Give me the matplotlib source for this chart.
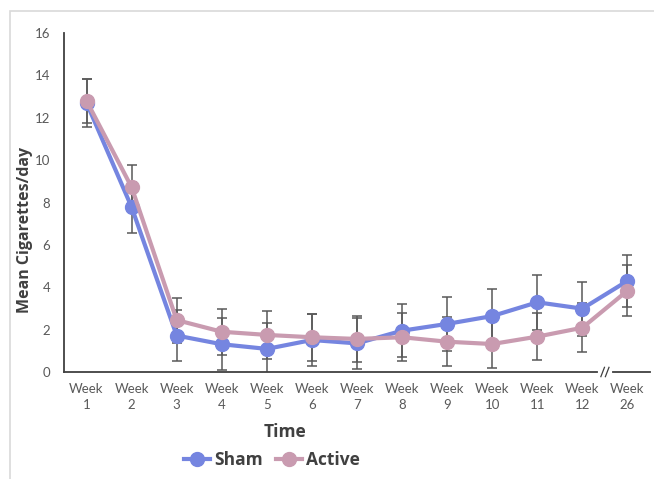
import matplotlib
matplotlib.use('Agg')
import numpy as np
import matplotlib.pyplot as plt
from matplotlib.patches import Rectangle
from matplotlib.lines import Line2D

plt.rcParams['font.family'] = ['Lato', 'DejaVu Sans']

weeks = ['Week\n1', 'Week\n2', 'Week\n3', 'Week\n4', 'Week\n5', 'Week\n6', 'Week\n7',
         'Week\n8', 'Week\n9', 'Week\n10', 'Week\n11', 'Week\n12', 'Week\n26']
sham = [12.7, 7.78, 1.72, 1.31, 1.09, 1.51, 1.35, 1.95, 2.27, 2.64, 3.29, 2.99, 4.30]
sham_err = [1.12, 1.2, 1.2, 1.22, 1.24, 1.22, 1.2, 1.24, 1.26, 1.26, 1.29, 1.27, 1.22]
active = [12.8, 8.72, 2.45, 1.90, 1.75, 1.64, 1.56, 1.64, 1.43, 1.32, 1.67, 2.09, 3.84]
active_err = [1.05, 1.05, 1.06, 1.08, 1.13, 1.1, 1.1, 1.13, 1.15, 1.12, 1.1, 1.16, 1.2]

sham_col = '#7585E0'
active_col = '#C99BB0'
txt_col = '#595959'
bold_font = ['Open Sans', 'DejaVu Sans']

fig = plt.figure(figsize=(6.54, 4.79), dpi=100)
# light outer frame of the chart area
fig.add_artist(Rectangle((10 / 654, -0.1), 1.2, (479 - 11) / 479 + 0.1,
                         transform=fig.transFigure, fill=False,
                         edgecolor='#D9D9D9', linewidth=1.2))

ax = fig.add_axes([64 / 654, (479 - 372) / 479, (650 - 64) / 654, (372 - 33) / 479])
x = np.arange(len(weeks))

for vals, errs, col, lab in [(sham, sham_err, sham_col, 'Sham'),
                             (active, active_err, active_col, 'Active')]:
    ax.errorbar(x, vals, yerr=errs, fmt='none', ecolor='#595959', elinewidth=1.1,
                capsize=3.5, capthick=1.1, zorder=2)
    ax.plot(x, vals, color=col, linewidth=3, marker='o', markersize=10,
            label=lab, zorder=3)

ax.set_xlim(-0.5, 12.5)
ax.set_ylim(0, 16)
ax.set_yticks(range(0, 17, 2))
ax.set_xticks(x)
ax.set_xticklabels(weeks, linespacing=1.35)
ax.tick_params(length=0, labelsize=9.5, colors=txt_col)
ax.tick_params(axis='x', pad=8)
ax.tick_params(axis='y', pad=10)
for s in ['top', 'right']:
    ax.spines[s].set_visible(False)
ax.spines['left'].set_color('#404040')
ax.spines['bottom'].set_color('#404040')
ax.spines['left'].set_linewidth(1.3)
ax.spines['bottom'].set_linewidth(1.3)

# axis break between week 12 and week 26
bx = 11.5
ax.plot([bx - 0.12, bx + 0.12], [0, 0], color='white', linewidth=3, zorder=5, clip_on=False)
for dx in (-0.05, 0.05):
    ax.plot([bx + dx - 0.04, bx + dx + 0.04], [-0.22, 0.22], color='#404040',
            linewidth=0.9, zorder=6, clip_on=False)

fig.text(285 / 654, 1 - 432 / 479, 'Time', ha='center', va='center',
         fontsize=12.5, fontweight='bold', color='#404040', family=bold_font)
fig.text(25 / 654, 1 - 230 / 479, 'Mean Cigarettes/day', ha='center', va='center',
         rotation=90, fontsize=11.5, fontweight='bold', color='#404040', family=bold_font)

handles = [Line2D([], [], color=sham_col, linewidth=3, marker='o', markersize=10),
           Line2D([], [], color=active_col, linewidth=3, marker='o', markersize=10)]
leg = fig.legend(handles, ['Sham', 'Active'], loc='center',
                 bbox_to_anchor=(272 / 654, 1 - 460 / 479), ncol=2, frameon=False,
                 handlelength=1.5, handletextpad=0.2, columnspacing=0.8,
                 prop={'weight': 'bold', 'size': 12.5, 'family': bold_font})
for t in leg.get_texts():
    t.set_color('#404040')

fig.savefig('out.png', dpi=100)
